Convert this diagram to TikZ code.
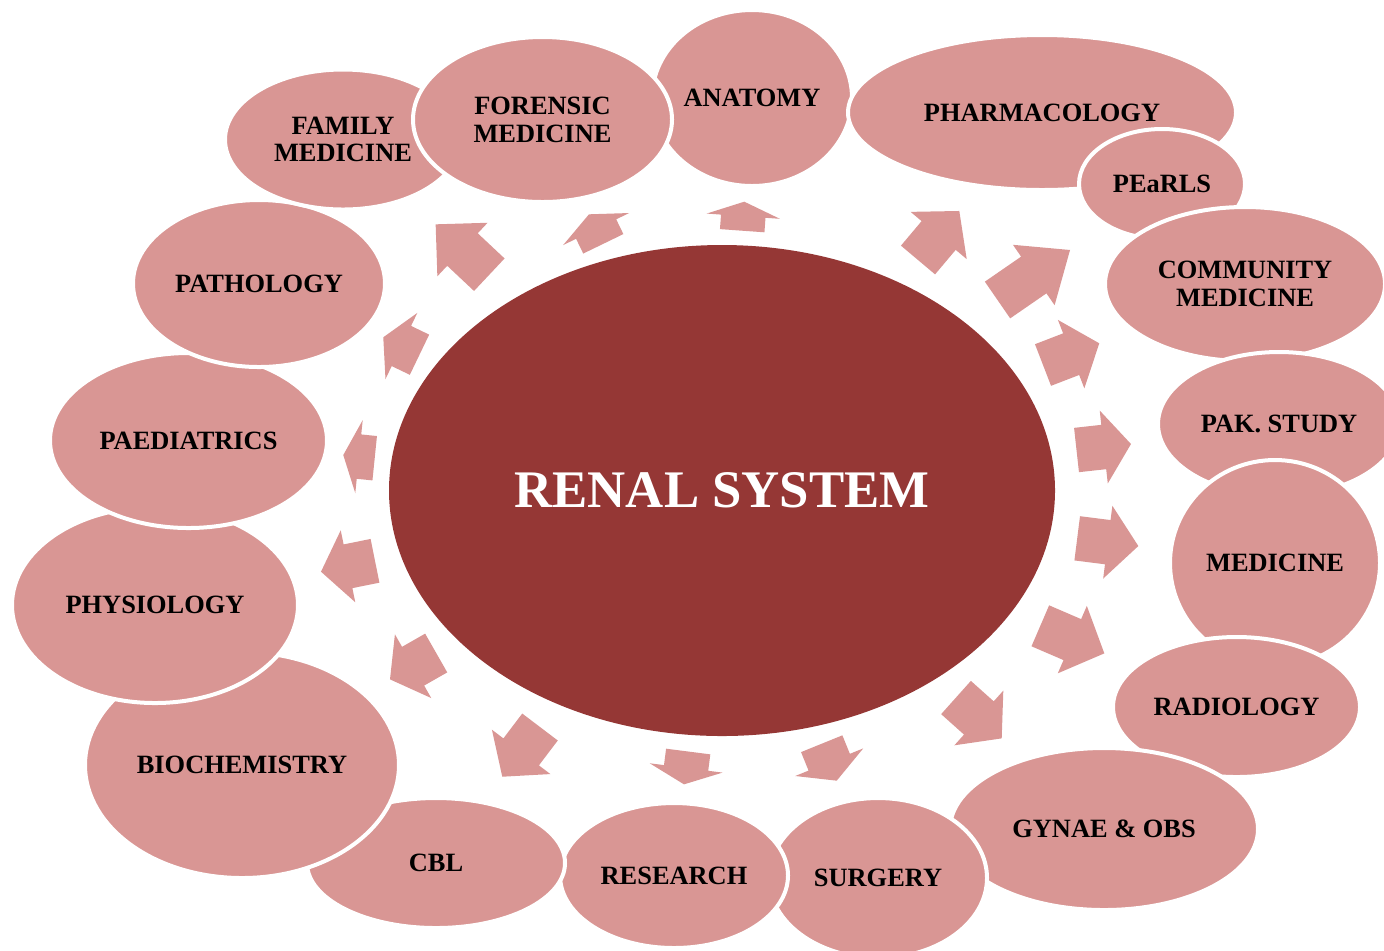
\documentclass[tikz,border=0pt]{standalone}
\usepackage{fontspec}
\setmainfont{Liberation Serif}
\usetikzlibrary{shapes.geometric}
\definecolor{pinkc}{HTML}{D99694}
\definecolor{darkc}{HTML}{953735}
\tikzset{
  topic/.style={ellipse, fill=pinkc, draw=white, line width=2pt, inner sep=0pt, align=center,
    font=\fontsize{13.2}{13.9}\selectfont\bfseries},
  core/.style={ellipse, fill=darkc, inner sep=0pt, text=white,
    font=\fontsize{26.4}{30}\selectfont\bfseries},
  arrowfill/.style={fill=pinkc}
}
% tail centre x, tail centre y, angle, total length (pixels)
\newcommand\bArrow[4]{\fill[arrowfill, shift={(#1,#2)}, rotate=#3]
  (0,-22.3) -- ({#4/2},-22.3) -- ({#4/2},-36.7) -- (#4,0) -- ({#4/2},36.7) -- ({#4/2},22.3) -- (0,22.3) -- cycle;}
\begin{document}
\begin{tikzpicture}[x=0.5pt,y=-0.5pt]
\useasboundingbox (0,0) rectangle (1384,950);
\clip (0,0) rectangle (1384,950);
% outer topics, in stacking order
\node[topic, minimum width=100pt, minimum height=88pt] (anat) at (752,98) {ANATOMY};
\node[topic, minimum width=194pt, minimum height=77.5pt] (pharm) at (1042,112.5) {PHARMACOLOGY};
\node[topic, minimum width=83pt, minimum height=55pt] (pearls) at (1162,184) {PEaRLS};
\node[topic, minimum width=140pt, minimum height=77pt] (comm) at (1245,284) {COMMUNITY\\MEDICINE};
\node[topic, minimum width=121pt, minimum height=72pt] (pak) at (1279,424) {PAK. STUDY};
\node[topic, minimum width=105pt, minimum height=103pt] (med) at (1275,563) {MEDICINE};
\node[topic, minimum width=123.5pt, minimum height=70pt] (rad) at (1236.5,707) {RADIOLOGY};
\node[topic, minimum width=154pt, minimum height=81pt] (gyn) at (1104,829) {GYNAE \& OBS};
\node[topic, minimum width=109pt, minimum height=80pt] (surg) at (878,878) {SURGERY};
\node[topic, minimum width=114pt, minimum height=72.5pt] (res) at (674,875.5) {RESEARCH};
\node[topic, minimum width=129pt, minimum height=65pt] (cbl) at (436,863) {CBL};
\node[topic, minimum width=157pt, minimum height=113pt] (bio) at (242,765) {BIOCHEMISTRY};
\node[topic, minimum width=143pt, minimum height=98pt] (phys) at (155,605) {PHYSIOLOGY};
\node[topic, minimum width=138.5pt, minimum height=87.5pt] (paed) at (188.5,440.5) {PAEDIATRICS};
\node[topic, minimum width=126pt, minimum height=83.5pt] (path) at (259,283.5) {PATHOLOGY};
\node[topic, minimum width=118pt, minimum height=70pt] (fam) at (343,139.5) {FAMILY\\MEDICINE};
\node[topic, minimum width=129.5pt, minimum height=82.5pt] (for) at (542.5,119.5) {FORENSIC\\MEDICINE};
% centre
\node[core, minimum width=333pt, minimum height=245.5pt] (core) at (722,490.5) {RENAL SYSTEM};
% block arrows
\bArrow{489.3}{274.7}{136.8}{73.6}
\bArrow{603.3}{243.8}{115.9}{32.8}
\bArrow{419.5}{354.7}{154.3}{40.2}
\bArrow{742.2}{230.7}{85.9}{29.1}
\bArrow{918}{260}{49.9}{64.1}
\bArrow{997.5}{300}{34.6}{88.1}
\bArrow{1043}{365}{21.1}{60.3}
\bArrow{1076.5}{450}{6.3}{54.8}
\bArrow{1077.2}{538.3}{-7.2}{61.6}
\bArrow{1040.3}{625.8}{-23.3}{69.7}
\bArrow{956}{697.5}{-41.8}{61.3}
\bArrow{821.7}{743.7}{-67.9}{39.9}
\bArrow{688.2}{751.5}{-97.3}{33.1}
\bArrow{540}{727}{-127.2}{62.4}
\bArrow{436.2}{653}{-150.3}{53.2}
\bArrow{375}{560.8}{-168.6}{55.1}
\bArrow{374.7}{458.2}{174.2}{31.6}
\end{tikzpicture}
\end{document}
